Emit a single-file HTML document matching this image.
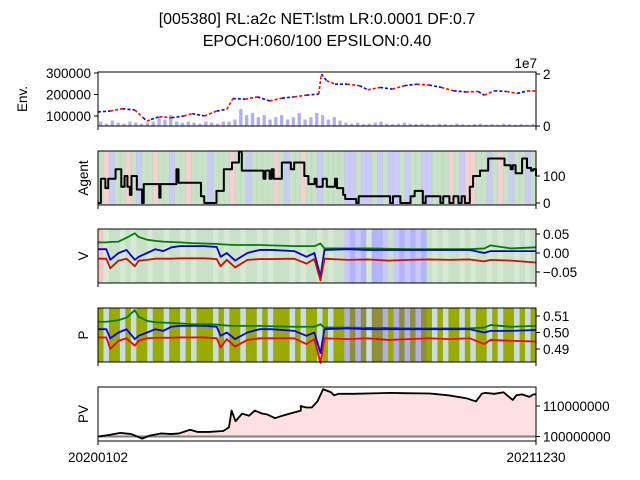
<!DOCTYPE html>
<html><head><meta charset="utf-8"><style>
body{margin:0;background:#fff}
svg{display:block;font-family:"Liberation Sans","DejaVu Sans",sans-serif}
</style></head><body>
<svg id="c" width="640" height="480" xmlns="http://www.w3.org/2000/svg">
<text x="317" y="24" font-size="16" text-anchor="middle">[005380] RL:a2c NET:lstm LR:0.0001 DF:0.7</text>
<text x="317" y="46" font-size="16" text-anchor="middle">EPOCH:060/100 EPSILON:0.40</text>
</svg>
<script>
// ---- data ----
const priceT=[0,0.028,0.056,0.084,0.103,0.112,0.121,0.140,0.168,0.196,0.215,0.243,0.271,0.294,0.308,0.336,0.364,0.392,0.420,0.448,0.476,0.504,0.510,0.522,0.541,0.569,0.597,0.616,0.644,0.672,0.700,0.728,0.756,0.784,0.812,0.840,0.868,0.882,0.905,0.933,0.957,0.980,1];
const priceV=[118750,123000,134000,128000,92000,76000,84000,97000,92000,100000,111000,100000,123000,131000,181000,178000,189000,170000,183000,189000,197000,202000,295000,264000,248000,248000,241000,222000,233000,225000,241000,248000,244000,233000,217000,212000,214000,197000,217000,214000,205000,217000,216000];
const volumeM=[1.7,0.9,2.1,1.3,0.9,1.7,1.3,0.9,1.3,1.7,3.4,2.5,4.2,1.7,1.3,1.7,1.3,0.9,1.7,1.3,0.9,1.7,1.7,2.5,6.5,4.2,5.0,3.4,4.2,2.5,3.4,4.2,2.5,3.4,5.0,2.5,3.4,5.0,4.2,2.5,3.4,2.1,1.3,0.9,1.3,0.7,0.9,1.3,1.7,0.9,0.7,0.9,1.3,0.9,0.7,0.9,0.7,0.5,0.9,0.7,0.5,0.9,0.7,0.5,0.7,0.9,0.5,0.7,0.5,0.9,0.7,0.5,0.7,0.5,0.7];
const agentT=[0,7,18,18,25,40,43,53,57,65,72,78,82,90,95,103,108,112,148,150,153,190,192,197,250,252,260,288,290,305,308,325,328,342,345,352,400,405,410,420,425,430,445,450,470,472,480,500,505,515,525,530,535,550,560,580,585,600,605,632,635,638,715,718,722,740,765,772,775,795,798,802,838,840,845,860,863,870,882,885,890,898,902,910,918,935,942,955,965,995,1000,1010,1015,1022,1028,1038,1042,1050,1060,1065,1072];
const agentV=[0,90,90,55,90,90,125,125,60,100,60,30,100,100,50,50,0,70,70,20,70,70,125,75,75,25,0,0,45,45,125,125,150,150,190,120,120,90,120,90,125,90,90,150,150,125,150,150,100,70,70,90,60,90,60,90,55,30,15,0,0,25,0,0,25,0,25,25,45,0,0,25,0,0,25,0,0,25,0,0,25,0,0,60,100,120,120,165,165,140,140,125,140,110,110,165,165,130,120,125,100];
const agentTMax=1072;
const actions=[2,0,1,2,2,0,2,1,2,2,0,2,2,1,2,2,0,2,2,2,1,2,2,2,0,2,2,1,2,2,2,2,0,2,1,2,2,0,2,2,1,2,2,2,2,1,1,2,1,1,2,1,2,1,1,2,1,2,2,1,1,2,2,2,0,2,1,0,0,2,2,1,2,0,2,1,2,2,1,2];
const vMode=[0,2,2,2,2,2,2,2,2,2,2,2,2,2,2,2,2,2,2,2,2,2,2,2,2,2,2,2,2,2,2,2,2,2,2,2,2,2,2,2,2,2,2,2,2,1,1,1,1,2,1,1,1,2,1,1,1,1,1,1,2,2,2,2,2,2,2,2,2,2,2,2,2,2,2,2,2,2,2,2];
const explore=[0,1,0,0,1,0,1,0,0,1,0,0,1,0,0,1,0,1,0,0,0,1,0,1,0,0,1,0,0,1,0,1,0,0,0,1,0,1,0,0,1,0,1,0,0,1,0,1,0,1,0,0,1,0,1,0,1,0,1,0,0,1,0,1,0,0,1,0,1,0,0,1,0,1,0,0,1,0,1,0];
const vT=[0,0.019,0.028,0.047,0.065,0.084,0.093,0.112,0.131,0.149,0.168,0.187,0.215,0.243,0.271,0.280,0.294,0.313,0.341,0.369,0.396,0.448,0.476,0.494,0.508,0.517,0.570,0.616,0.663,0.709,0.756,0.803,0.849,0.882,0.896,0.943,1];
const vGreen=[0.028,0.028,0.029,0.030,0.040,0.052,0.042,0.035,0.032,0.030,0.029,0.028,0.026,0.025,0.024,0.023,0.022,0.021,0.021,0.021,0.020,0.018,0.018,0.018,0.025,0.012,0.012,0.012,0.011,0.010,0.010,0.010,0.010,0.012,0.020,0.012,0.015];
const vBlue=[0.010,0.010,-0.018,0.0,0.008,-0.018,-0.010,0.0,0.010,0.005,0.015,0.018,0.018,0.018,0.016,-0.010,0.0,-0.020,0.0,0.008,0.008,0.005,-0.010,0.0,-0.062,0.008,0.010,0.008,0.008,0.008,0.008,0.008,0.008,0.0,0.005,0.005,0.005];
const vRed=[-0.015,-0.015,-0.040,-0.020,-0.015,-0.035,-0.020,-0.018,-0.015,-0.015,-0.015,-0.014,-0.014,-0.014,-0.016,-0.035,-0.018,-0.038,-0.018,-0.016,-0.016,-0.015,-0.028,-0.016,-0.072,-0.015,-0.018,-0.017,-0.020,-0.018,-0.017,-0.018,-0.017,-0.022,-0.018,-0.020,-0.025];
const pGreen=[0.5065,0.5065,0.5068,0.5075,0.509,0.5135,0.5095,0.507,0.5062,0.506,0.5058,0.5055,0.505,0.505,0.5048,0.5045,0.5042,0.504,0.504,0.504,0.5038,0.5035,0.5035,0.5035,0.505,0.503,0.503,0.5028,0.5028,0.5025,0.5025,0.5025,0.5025,0.503,0.5045,0.5035,0.504];
const pBlue=[0.502,0.502,0.4965,0.500,0.502,0.496,0.498,0.500,0.502,0.501,0.5035,0.504,0.504,0.504,0.5035,0.498,0.500,0.496,0.500,0.502,0.502,0.501,0.498,0.500,0.4875,0.502,0.5025,0.502,0.502,0.502,0.502,0.502,0.502,0.500,0.501,0.501,0.5015];
const pRed=[0.497,0.497,0.490,0.495,0.4965,0.492,0.495,0.4965,0.4968,0.4968,0.4968,0.497,0.497,0.497,0.4965,0.491,0.496,0.4915,0.4955,0.4965,0.4965,0.4965,0.493,0.496,0.4815,0.4965,0.496,0.4965,0.4955,0.496,0.4965,0.496,0.4965,0.493,0.4955,0.495,0.4945];
const pvT=[0,0.025,0.051,0.076,0.101,0.118,0.143,0.168,0.185,0.210,0.227,0.253,0.286,0.299,0.305,0.314,0.329,0.345,0.358,0.375,0.387,0.404,0.421,0.438,0.463,0.463,0.475,0.488,0.501,0.514,0.532,0.539,0.549,0.583,0.668,0.699,0.758,0.800,0.842,0.863,0.876,0.884,0.905,0.926,0.934,0.947,0.955,0.968,0.985,0.994,1];
const pvV=[100.0,100.5,101.2,100.8,99.3,100.3,101.0,100.8,101.0,102.2,101.5,101.5,101.8,103,108.5,105,107.5,106.8,108.5,107.5,107.2,106,106.8,107.5,108.5,110,109.5,109.5,111.5,115.5,114.5,113.5,114,114,114.3,114.2,114.1,113.5,112.5,111.5,114,114.3,114,114.5,113.5,112,113.5,113.8,113,113.8,113.8];
const rightTicksAgent=[0,100], rightTicksV=[0.05,0.00,-0.05], rightTicksP=[0.51,0.50,0.49], rightTicksPV=[110,100];
const volumeTicks=[20,0];
const envTicks=[300000,200000,100000];

// ---- drawing ----
const svg=document.getElementById('c'),NS='http://www.w3.org/2000/svg';
const X0=98,X1=536;
function mk(tag,at,parent){const e=document.createElementNS(NS,tag);for(const k in at)e.setAttribute(k,at[k]);(parent||svg).appendChild(e);return e;}
const xs=t=>X0+t*(X1-X0);
function lin(d0,d1,r0,r1){return v=>r0+(v-d0)/(d1-d0)*(r1-r0);}
function frame(top,bot,name){
  const r=mk('rect',{x:X0,y:top,width:X1-X0,height:bot-top,fill:'none',stroke:'#000','stroke-width':1});
  
  [X0,X1].forEach(x=>mk('line',{x1:x,x2:x,y1:bot,y2:bot+4,stroke:'#000'}));
}
function ylabel(txt,x,y,name){const t=mk('text',{x:x,y:y,'font-size':13.5,'text-anchor':'middle',transform:`rotate(-90 ${x} ${y})`});t.textContent=txt;
  }
function rticks(vals,ys,fmt,name){vals.forEach(v=>{const y=ys(v);mk('line',{x1:X1,x2:X1+4,y1:y,y2:y,stroke:'#000'});
  const t=mk('text',{x:X1+7,y:y+5,'font-size':13.5});t.textContent=fmt(v);
  });}
function path(ts,vs,ys,col,w,name,step){let d='';ts.forEach((t,i)=>{const x=xs(t),y=ys(vs[i]);
  if(i==0)d='M'+x+','+y;else if(step)d+='H'+x+'V'+y;else d+='L'+x+','+y;});
  const p=mk('path',{d:d,fill:'none',stroke:col,'stroke-width':w,'stroke-linejoin':'round'});
  return p;}
function stripes(top,bot,colFn,name){const n=actions.length,w=(X1-X0)/n;
  for(let i=0;i<n;i++){const r=mk('rect',{x:X0+i*w,y:top,width:w+0.3,height:bot-top,fill:colFn(i)});
  }}

// Panel 1: Env
{const top=72,bot=126,ys=lin(100000,300000,116,73),yv=lin(0,20,126,74);
 const n=volumeM.length,w=(X1-X0)/n;
 volumeM.forEach((v,i)=>{const r=mk('rect',{x:X0+i*w+1,y:yv(v),width:w-2.5,height:bot-yv(v),fill:'#b0b0f8'});
  });
 for(let i=1;i<priceT.length;i++){const l=mk('line',{x1:xs(priceT[i-1]),y1:ys(priceV[i-1]),x2:xs(priceT[i]),y2:ys(priceV[i]),stroke:i%2?'#0000ff':'#ff0000','stroke-width':1.6,'stroke-dasharray':'3,2'});
  }
 frame(top,bot,'env-panel');
 envTicks.forEach(v=>{const y=ys(v);mk('line',{x1:X0-4,x2:X0,y1:y,y2:y,stroke:'#000'});const t=mk('text',{x:X0-7,y:y+5,'font-size':13.5,'text-anchor':'end'});t.textContent=v;
  });
 rticks(volumeTicks,yv,v=>v/10,'env-volume');
 const e=mk('text',{x:537,y:68,'font-size':13.5,'text-anchor':'end'});e.textContent='1e7';
 ylabel('Env.',27,99,'env-y-axis-title');}

// Panel 2: Agent
{const top=151,bot=205,ys=lin(0,100,203,176);
 const cols=['rgba(230,150,150,0.45)','rgba(160,160,240,0.55)','rgba(130,190,130,0.45)'];
 stripes(top,bot,i=>cols[actions[i]],'agent-action-stripe');
 path(agentT.map(t=>t/agentTMax),agentV,ys,'#000',2,'agent-holdings-line',true);
 frame(top,bot,'agent-panel');rticks(rightTicksAgent,ys,v=>v,'agent');ylabel('Agent',88,178,'agent-y-axis-title');}

// Panel 3: V
{const top=229,bot=283,ys=lin(0,0.05,253,234);
 stripes(top,bot,i=>vMode[i]==0?'rgba(235,160,160,0.6)':vMode[i]==1?(explore[i]?'rgba(200,200,250,1)':'rgba(180,180,250,1)'):(explore[i]?'rgba(215,232,212,1)':'rgba(200,225,200,1)'),'v-background-stripe');
 path(vT,vGreen,ys,'#008000',1.8,'v-green-line');path(vT,vBlue,ys,'#0000dd',1.8,'v-blue-line');path(vT,vRed,ys,'#cc1100',1.8,'v-red-line');
 frame(top,bot,'v-panel');rticks(rightTicksV,ys,v=>v<0?'\u2212'+Math.abs(v).toFixed(2):v.toFixed(2),'v');ylabel('V',88,256,'v-y-axis-title');}

// Panel 4: P
{const top=308,bot=362,ys=lin(0.49,0.51,349,316);
 stripes(top,bot,i=>vMode[i]==1?(explore[i]?'#b0b0e0':'#8f8f3a'):(explore[i]?'#c8dde0':'#9aaa00'),'p-background-stripe');
 path(vT,pGreen,ys,'#008000',1.8,'p-green-line');path(vT,pBlue,ys,'#0000ff',1.8,'p-blue-line');path(vT,pRed,ys,'#ff0000',1.8,'p-red-line');
 frame(top,bot,'p-panel');rticks(rightTicksP,ys,v=>v.toFixed(2),'p');ylabel('P',88,335,'p-y-axis-title');}

// Panel 5: PV
{const top=387,bot=441,ys=lin(100,110,436.5,406);
 let d='M'+xs(pvT[0])+','+ys(100);pvT.forEach((t,i)=>d+='L'+xs(t)+','+ys(pvV[i]));d+='L'+xs(1)+','+ys(100)+'Z';
 const f=mk('path',{d:d,fill:'#ffe0e0'});
 const g=mk('line',{x1:X0,x2:X1,y1:ys(100),y2:ys(100),stroke:'#808080','stroke-width':2});
 path(pvT,pvV,ys,'#000',1.8,'pv-line');
 frame(top,bot,'pv-panel');rticks(rightTicksPV,ys,v=>v+'000000','pv');ylabel('PV',88,414,'pv-y-axis-title');
 [['20200102',X0],['20211230',X1]].forEach(([s,x])=>{const t=mk('text',{x:x,y:462,'font-size':13.5,'text-anchor':'middle'});t.textContent=s;
  });}
</script>
</body></html>
